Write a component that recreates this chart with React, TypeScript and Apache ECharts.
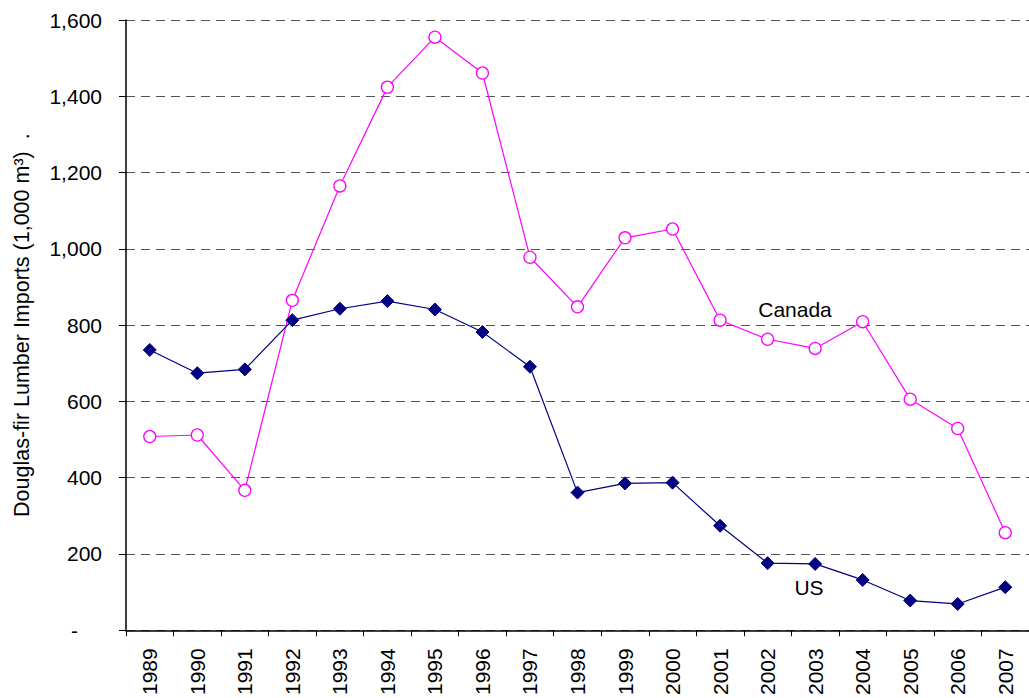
import React, { useEffect, useRef } from "react";
import * as echarts from "echarts";

const years = ["1989","1990","1991","1992","1993","1994","1995","1996","1997","1998","1999","2000","2001","2002","2003","2004","2005","2006","2007"];
const canada = [508, 512, 367, 865, 1165, 1424, 1555, 1461, 978, 848, 1029, 1052, 813, 763, 739, 809, 606, 529, 256];
const us = [735, 674, 684, 813, 843, 863, 841, 782, 691, 361, 385, 387, 274, 176, 174, 132, 78, 69, 113];
const yTicks = { min: 0, max: 1600, interval: 200 };

const FONT = "'Liberation Sans', Arial, sans-serif";

export default function App() {
  const ref = useRef<HTMLDivElement>(null);
  useEffect(() => {
    document.body.style.margin = "0";
    if (!ref.current) return;
    const chart = echarts.init(ref.current, undefined, { renderer: "svg" });
    chart.setOption({
      animation: false,
      backgroundColor: "#ffffff",
      textStyle: { fontFamily: FONT },
      grid: { left: 126, right: -9, top: 20, bottom: 65, containLabel: false },
      xAxis: {
        type: "category",
        data: years,
        boundaryGap: true,
        axisLine: { lineStyle: { color: "#000", width: 1.5 } },
        axisTick: { show: true, length: 6, lineStyle: { color: "#000" } },
        axisLabel: { rotate: 90, margin: 18, color: "#000", fontSize: 21, fontFamily: FONT },
        splitLine: { show: false },
      },
      yAxis: {
        type: "value",
        min: yTicks.min,
        max: yTicks.max,
        interval: yTicks.interval,
        name: "Douglas-fir Lumber Imports (1,000 m³)  .",
        nameLocation: "middle",
        nameGap: 93,
        nameTextStyle: { color: "#000", fontSize: 21.5, fontFamily: FONT },
        axisLine: { show: true, lineStyle: { color: "#000", width: 1.5 } },
        axisTick: { show: true, length: 7, lineStyle: { color: "#000" } },
        axisLabel: {
          margin: 24,
          color: "#000",
          fontSize: 21,
          fontFamily: FONT,
          formatter: (v: number) => (v === 0 ? "{d|-}" : v.toLocaleString("en-US")),
          rich: { d: { fontSize: 21, fontFamily: FONT, color: "#000", padding: [0, 24, 0, 0] } },
        },
        splitLine: { show: true, lineStyle: { color: "#555", width: 1.2, type: [9, 6] } },
      },
      series: [
        {
          name: "Canada",
          type: "line",
          data: canada,
          symbol: "circle",
          symbolSize: 12,
          showAllSymbol: true,
          lineStyle: { color: "#FF00FF", width: 1.2 },
          itemStyle: { color: "#ffffff", borderColor: "#FF00FF", borderWidth: 1.3 },
          z: 3,
        },
        {
          name: "US",
          type: "line",
          data: us,
          symbol: "diamond",
          symbolSize: 13,
          showAllSymbol: true,
          lineStyle: { color: "#000080", width: 1.2 },
          itemStyle: { color: "#000080", borderColor: "#000080", borderWidth: 1 },
          z: 4,
        },
      ],
      graphic: [
        {
          type: "text",
          x: 795,
          y: 309,
          style: { text: "Canada", fontSize: 21, fontFamily: FONT, fill: "#000", align: "center", verticalAlign: "middle" },
        },
        {
          type: "text",
          x: 809,
          y: 587,
          style: { text: "US", fontSize: 21, fontFamily: FONT, fill: "#000", align: "center", verticalAlign: "middle" },
        },
      ],
    });
    return () => chart.dispose();
  }, []);
  return <div ref={ref} style={{ width: 1029, height: 698, position: "absolute", left: 0, top: 0 }} />;
}
